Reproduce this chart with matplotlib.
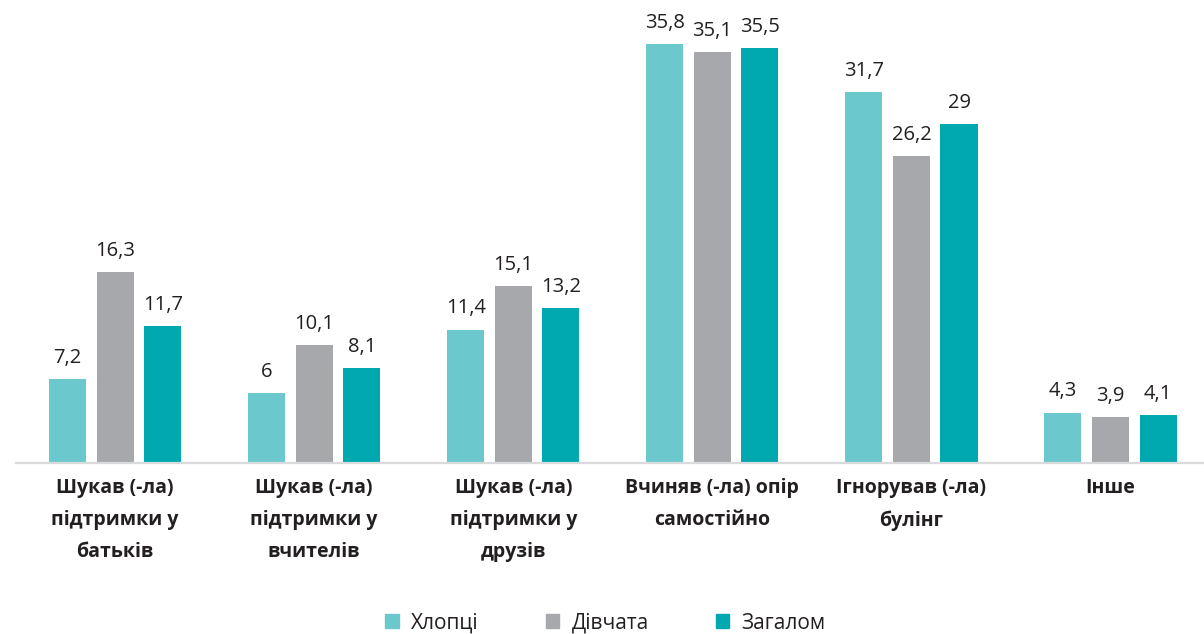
import numpy as np
import matplotlib.pyplot as plt
from matplotlib.patches import Patch

categories = [
    "Шукав (-ла)\nпідтримки у\nбатьків",
    "Шукав (-ла)\nпідтримки у\nвчителів",
    "Шукав (-ла)\nпідтримки у\nдрузів",
    "Вчиняв (-ла) опір\nсамостійно",
    "Ігнорував (-ла)\nбулінг",
    "Інше",
]
series_names = ["Хлопці", "Дівчата", "Загалом"]
boys = [7.2, 6, 11.4, 35.8, 31.7, 4.3]
girls = [16.3, 10.1, 15.1, 35.1, 26.2, 3.9]
total = [11.7, 8.1, 13.2, 35.5, 29, 4.1]

colors = ["#6BC9CD", "#A7A8AC", "#00A8B0"]

plt.rcParams["font.family"] = ["Open Sans", "DejaVu Sans"]

fig = plt.figure(figsize=(12.04, 6.34), dpi=100)
ax = fig.add_axes([0.013, 0.270, 0.992, 0.700])

x = np.arange(len(categories))
width = 0.186
offset = 0.239

for i, (vals, color) in enumerate(zip([boys, girls, total], colors)):
    pos = x + (i - 1) * offset
    ax.bar(pos, vals, width=width, color=color, zorder=2)
    for px, v in zip(pos, vals):
        label = f"{v:g}".replace(".", ",")
        ax.annotate(label, (px, v), xytext=(0, 8), textcoords="offset points",
                    ha="center", va="bottom", fontsize=14.5, color="#231F20")

ax.set_xlim(-0.5, 5.5)
ax.set_ylim(0, 37.95)
ax.set_yticks([])
ax.set_xticks(x)
ax.set_xticklabels(categories, fontsize=14, fontweight="bold", color="#231F20",
                   linespacing=1.8)
ax.tick_params(axis="x", length=0, pad=11)

for side in ["top", "right", "left"]:
    ax.spines[side].set_visible(False)
ax.spines["bottom"].set_color("#D9DADB")
ax.spines["bottom"].set_linewidth(1.6)

handles = [Patch(color=c, label=n) for c, n in zip(colors, series_names)]
fig.legend(handles=handles, loc="center", bbox_to_anchor=(0.503, 0.017),
           ncol=3, frameon=False, fontsize=15, handlelength=0.65, handleheight=0.65,
           columnspacing=3.2, handletextpad=0.6, labelcolor="#231F20")

fig.savefig("out.png", dpi=100)
